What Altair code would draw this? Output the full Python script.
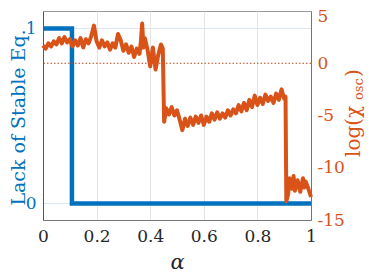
import altair as alt
import pandas as pd

BLUE = "#0072BD"
ORANGE = "#D95319"
FONT = "DejaVu Serif"

# Lack of stable equilibrium (left axis)
blue_x = [0.0, 0.108, 0.108, 1.0]
blue_y = [1, 1, 0, 0]

# log(chi_osc) (right axis)
orange_x = [0.00, 0.01, 0.02, 0.03, 0.04, 0.05, 0.06, 0.07, 0.08, 0.09,
            0.10, 0.11, 0.12, 0.13, 0.14, 0.15, 0.16, 0.17, 0.18, 0.19,
            0.20, 0.21, 0.22, 0.23, 0.24, 0.25, 0.26, 0.27, 0.28, 0.29,
            0.30, 0.31, 0.32, 0.33, 0.34, 0.35, 0.36, 0.365, 0.37, 0.375,
            0.38, 0.39, 0.40, 0.41, 0.42, 0.43, 0.44, 0.447, 0.452, 0.46,
            0.47, 0.48, 0.49, 0.50, 0.51, 0.52, 0.53, 0.54, 0.55, 0.56,
            0.57, 0.58, 0.59, 0.60, 0.61, 0.62, 0.63, 0.64, 0.65, 0.66,
            0.67, 0.68, 0.69, 0.70, 0.71, 0.72, 0.73, 0.74, 0.75, 0.76,
            0.77, 0.78, 0.79, 0.80, 0.81, 0.82, 0.83, 0.84, 0.85, 0.86,
            0.87, 0.88, 0.89, 0.90, 0.905, 0.908, 0.915, 0.92, 0.93, 0.935,
            0.94, 0.95, 0.96, 0.97, 0.975, 0.98, 0.99, 1.00]
orange_y = [1.7, 1.4, 1.9, 1.6, 2.1, 1.8, 2.4, 1.9, 2.5, 2.0,
            2.3, 1.6, 2.2, 1.7, 2.4, 1.5, 2.3, 1.9, 2.6, 3.6,
            2.1, 1.5, 2.2, 1.6, 2.0, 1.3, 1.9, 1.5, 2.8, 2.2,
            1.2, 1.8, 1.0, 1.6, 0.6, 1.4, 0.9, 2.0, 3.8, 1.5,
            2.4, 1.3, -0.3, 1.5, -0.6, 0.8, 1.8, 1.4, -5.6, -4.3,
            -4.9, -4.2, -5.0, -4.5, -5.4, -6.4, -5.3, -6.0, -5.2, -5.9,
            -5.1, -5.7, -5.0, -5.9, -5.1, -5.6, -4.8, -5.4, -4.7, -5.3,
            -4.8, -5.2, -4.5, -5.0, -4.4, -4.8, -4.0, -4.6, -3.8, -4.5,
            -3.5, -4.2, -3.1, -4.0, -3.3, -3.9, -3.0, -3.6, -3.2, -3.8,
            -2.9, -3.5, -2.5, -3.4, -3.2, -13.2, -12.5, -11.0, -12.0, -10.8,
            -12.2, -11.2, -12.3, -11.0, -11.9, -11.3, -12.0, -12.8]

x_ticks = [0, 0.2, 0.4, 0.6, 0.8, 1]
left_ticks = [0, 1]
right_ticks = [5, 0, -5, -10, -15]

blue_df = pd.DataFrame({"x": blue_x, "y": blue_y})
orange_df = pd.DataFrame({"x": orange_x, "y": orange_y})
zero_df = pd.DataFrame({"y": [0]})

x_axis = alt.Axis(
    values=x_ticks, labelExpr="toString(datum.value)", grid=True,
    gridColor="#e4e4e4", domainColor="#777777", ticks=False, tickSize=0,
    labelPadding=8, labelFont=FONT, labelFontSize=17, labelColor="#262626",
    labelFlush=False, title="α", titleFont=FONT, titleFontSize=21,
    titleFontStyle="italic", titleFontWeight="normal", titleColor="#262626",
    titleY=48, titleBaseline="alphabetic",
)
x_enc = alt.X("x:Q", scale=alt.Scale(domain=[0, 1], nice=False), axis=x_axis)

blue = alt.Chart(blue_df).mark_line(color=BLUE, strokeWidth=4.5, strokeCap="butt", strokeJoin="miter").encode(
    x=x_enc,
    y=alt.Y("y:Q", scale=alt.Scale(domain=[-0.095, 1.1], nice=False, zero=False),
            axis=alt.Axis(orient="left", values=left_ticks, grid=True, gridColor="#dde5ee",
                          labelExpr="toString(datum.value)",
                          domainColor=BLUE, ticks=False, tickSize=0, labelColor=BLUE,
                          labelFont=FONT, labelFontSize=17, labelPadding=7,
                          title="Lack of Stable Eq.", titleColor=BLUE, titleFont=FONT,
                          titleFontSize=19, titleFontWeight="normal", titleAngle=270,
                          titleX=-19, titleY=106, titleAlign="center",
                          titleBaseline="alphabetic")),
)

rule = alt.Chart(zero_df).mark_rule(color="#C8401A", strokeWidth=1, strokeDash=[1.5, 2]).encode(
    y=alt.Y("y:Q", scale=alt.Scale(domain=[-15, 5], nice=False), axis=None),
)

orange = alt.Chart(orange_df).mark_line(color=ORANGE, strokeWidth=4, strokeJoin="round").encode(
    x=x_enc,
    y=alt.Y("y:Q", scale=alt.Scale(domain=[-15, 5], nice=False, zero=False),
            axis=alt.Axis(orient="right", values=right_ticks, grid=False,
                          labelExpr="toString(datum.value)",
                          labelOffset={"condition": {"test": "datum.value == 5", "value": 5}, "value": 0},
                          domainColor=ORANGE, ticks=False, tickSize=0, labelColor=ORANGE,
                          labelFont=FONT, labelFontSize=17, labelPadding=6,
                          labelOverlap=False, labelFlush=False, title=None)),
)

t1 = alt.Chart(pd.DataFrame({"t": ["log(χ"]})).mark_text(
    font=FONT, fontSize=20, color=ORANGE, angle=270, align="left", baseline="alphabetic"
).encode(text="t:N", x=alt.value(317), y=alt.value(146))
t2 = alt.Chart(pd.DataFrame({"t": ["osc"]})).mark_text(
    font=FONT, fontSize=13, color=ORANGE, angle=270, align="left", baseline="alphabetic"
).encode(text="t:N", x=alt.value(320), y=alt.value(89))
t3 = alt.Chart(pd.DataFrame({"t": [")"]})).mark_text(
    font=FONT, fontSize=20, color=ORANGE, angle=270, align="left", baseline="alphabetic"
).encode(text="t:N", x=alt.value(317), y=alt.value(66))

chart = alt.layer(blue, rule, orange, t1, t2, t3).resolve_scale(y="independent").properties(
    width=268, height=209,
    padding={"left": 35, "top": 3, "right": 55, "bottom": 52},
    autosize=alt.AutoSizeParams(type="none"),
    background="white",
).configure_view(stroke="#999999", strokeWidth=1)

chart.save("out.html", embed_options={"renderer": "svg", "actions": False})
